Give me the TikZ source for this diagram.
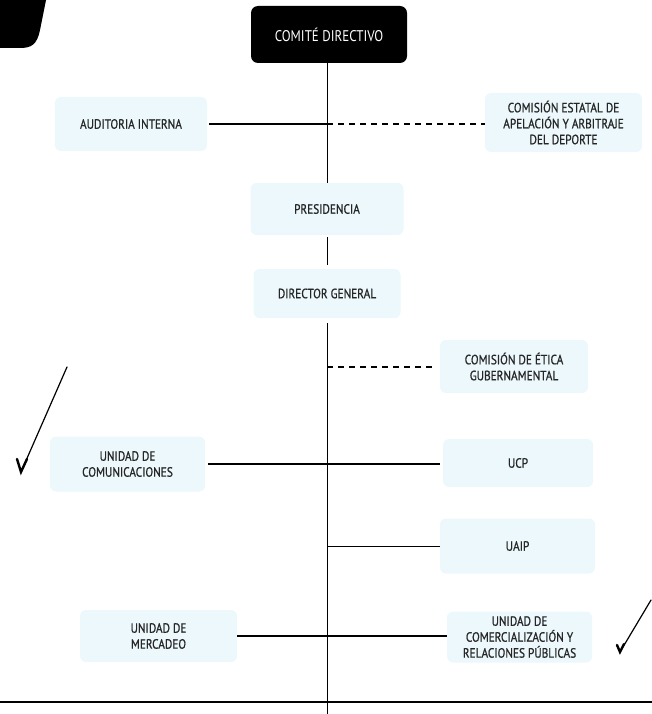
\documentclass[tikz,border=0pt]{standalone}
\usepackage{fontspec}
\setmainfont{PT Sans}[FakeStretch=0.84,FakeBold=0.8]
\newfontfamily\jefefont{PT Sans}[FakeStretch=0.84]
\usepackage{tikz}

\definecolor{cajaazul}{RGB}{236,248,252}

\begin{document}
\begin{tikzpicture}[x=1bp,y=-1bp,
  font=\fontsize{13.5}{16}\selectfont,
  caja/.style={fill=cajaazul,rounded corners=6bp,align=center,text=black!85},
  jefe/.style={fill=black,rounded corners=7bp,text=white,
    font=\jefefont\fontsize{15.5}{18}\selectfont,minimum width=156bp,minimum height=57bp},
  linea/.style={line width=1.4bp},
  punteada/.style={line width=2bp,dash pattern=on 6bp off 5bp}]
%
% constants
%
\newcommand*{\TrunkX}{327}%

\useasboundingbox (0,0) rectangle (652,714);

% scan marks
\fill (0,0) -- (46,0) -- (40,30) .. controls (37,45) and (31,48) .. (20,48) -- (0,48) -- cycle;
\draw[line width=1.2bp,line cap=round] (21,472) -- (67,367);
\draw[line width=2.4bp,line cap=round] (17,459) -- (21,472) -- (27,459);
\draw[line width=1.2bp,line cap=round] (620,652) -- (651,600);
\draw[line width=2.4bp,line cap=round] (617,645) -- (620,652) -- (624,644);

% boxes
\node[jefe] (comite) at (329,34.5) {COMITÉ DIRECTIVO};

\node[caja,minimum width=152bp,minimum height=54bp] (audit) at (131,124) {AUDITORIA INTERNA};
\node[caja,minimum width=157bp,minimum height=59bp] (apelacion) at (563.5,122.5)
  {COMISIÓN ESTATAL DE\\APELACIÓN Y ARBITRAJE\\DEL DEPORTE};

\node[caja,minimum width=153bp,minimum height=52bp] (pres) at (\TrunkX,209) {PRESIDENCIA};
\node[caja,minimum width=147bp,minimum height=49bp] (dirgen) at (\TrunkX,293.5) {DIRECTOR GENERAL};

\node[caja,minimum width=148bp,minimum height=53bp] (etica) at (514,366.5)
  {COMISIÓN DE ÉTICA\\GUBERNAMENTAL};

\node[caja,minimum width=155bp,minimum height=55bp] (comunic) at (127.5,464)
  {UNIDAD DE\\COMUNICACIONES};
\node[caja,minimum width=150bp,minimum height=48bp] (ucp) at (518,463) {UCP};

\node[caja,minimum width=155bp,minimum height=55bp] (uaip) at (517.5,546) {UAIP};

\node[caja,minimum width=157bp,minimum height=52bp] (mercadeo) at (158.5,636)
  {UNIDAD DE\\MERCADEO};
\node[caja,minimum width=145bp,minimum height=51bp] (comerc) at (519.5,637)
  {UNIDAD DE\\COMERCIALIZACIÓN Y\\RELACIONES PÚBLICAS};

% trunk
\coordinate (fin) at (\TrunkX,714);
\coordinate (izq) at (0,702);
\coordinate (der) at (652,702);

\draw[line width=1bp] (comite.south -| fin) -- (pres.north);
\draw[line width=1bp,shorten <=2bp,shorten >=4bp] (pres.south) -- (dirgen.north);
\draw[line width=1bp,shorten <=5bp] (dirgen.south) -- (fin);

% branches
\draw[linea,shorten <=2bp] (audit.east) -- (audit.east -| fin);
\draw[punteada] (audit.east -| fin) -- (audit.east -| apelacion.west);
\draw[punteada,shorten >=5bp] (etica.west -| fin) -- (etica.west);
\draw[linea,shorten <=3bp,shorten >=3bp] (comunic.east) -- (comunic.east -| ucp.west);
\draw[line width=0.9bp] (uaip.west -| fin) -- (uaip.west);
\draw[linea] (mercadeo.east) -- (mercadeo.east -| comerc.west);
\draw[linea] (izq) -- (der);

\end{tikzpicture}
\end{document}
